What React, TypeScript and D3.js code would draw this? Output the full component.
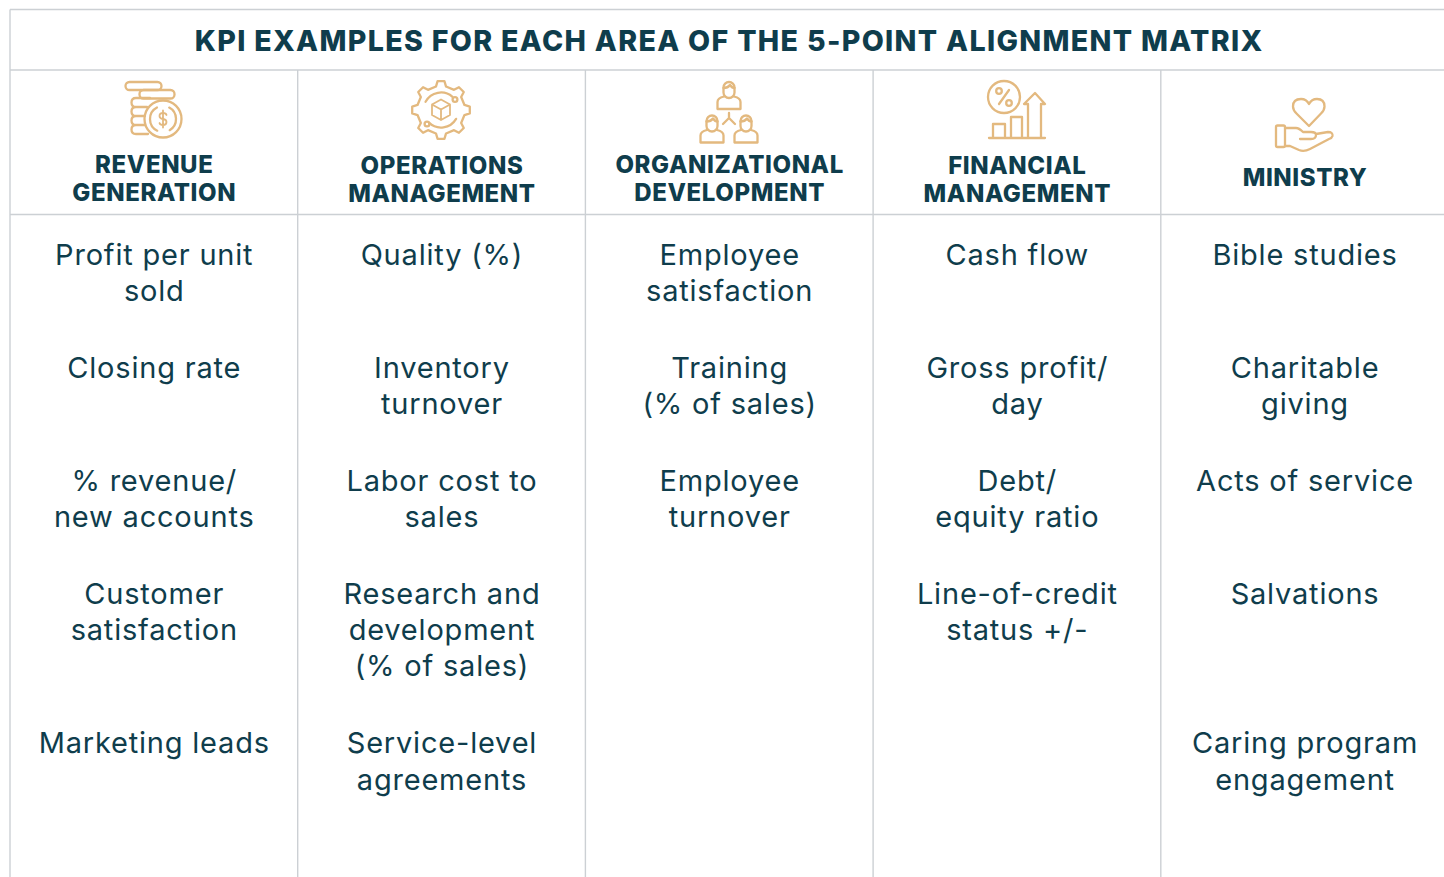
import React from "react";
import * as d3 from "d3";

const title = "KPI EXAMPLES FOR EACH AREA OF THE 5-POINT ALIGNMENT MATRIX";

const headings = [
  ["REVENUE", "GENERATION"],
  ["OPERATIONS", "MANAGEMENT"],
  ["ORGANIZATIONAL", "DEVELOPMENT"],
  ["FINANCIAL", "MANAGEMENT"],
  ["MINISTRY"],
];

// one entry per row, each cell split into its printed lines
const revenue = [["Profit per unit", "sold"], ["Closing rate"], ["% revenue/", "new accounts"], ["Customer", "satisfaction"], ["Marketing leads"]];
const operations = [["Quality (%)"], ["Inventory", "turnover"], ["Labor cost to", "sales"], ["Research and", "development", "(% of sales)"], ["Service-level", "agreements"]];
const organizational = [["Employee", "satisfaction"], ["Training", "(% of sales)"], ["Employee", "turnover"], [], []];
const financial = [["Cash flow"], ["Gross profit/", "day"], ["Debt/", "equity ratio"], ["Line-of-credit", "status +/-"], []];
const ministry = [["Bible studies"], ["Charitable", "giving"], ["Acts of service"], ["Salvations"], ["Caring program", "engagement"]];

const columns = [revenue, operations, organizational, financial, ministry];
const rowLines = [2, 2, 2, 3, 2];

const WIDTH = 1444;
const HEIGHT = 877;
const INK = "#0f3d4c";
const GOLD = "#e3b97f";
const RULE = "#ccd0d4";
const FONT = "Inter, sans-serif";

const LINE = 36.2;
const ROW_GAP = 40.5;

const x = d3.scaleLinear().domain([0, 5]).range([10, 1448.5]);
const center = (i: number) => (x(i) + x(i + 1)) / 2;

// first-line baseline of each row, from the running line count
const rowTop = [0, ...d3.cumsum(rowLines, (n) => n * LINE + ROW_GAP)].map((d) => 265 + d);

const gearPath = () => {
  const pts: [number, number][] = [];
  const teeth = 8;
  const step = (Math.PI * 2) / teeth;
  d3.range(teeth).forEach((t) => {
    const a = t * step;
    pts.push([a - step * 0.27, 24], [a - step * 0.15, 29], [a + step * 0.15, 29], [a + step * 0.27, 24]);
  });
  return d3.lineRadial().curve(d3.curveLinearClosed)(pts) as string;
};

function Person({ cx, top }: { cx: number; top: number }) {
  return (
    <g transform={`translate(${cx},${top})`}>
      <rect x={-5.5} y={0} width={11} height={16} rx={5.5} />
      <path d="M-5.5 6 Q-1 6 1 3 Q3 6 5.5 6" />
      <path d="M-11.500 27 V20 Q-11.500 16 -5 14.500 M5 14.500 Q11.500 16 11.500 20 V27 H-11.500" />
    </g>
  );
}

function Icons() {
  const arc = d3.arc();
  const ring = (r: number, a0: number, a1: number) =>
    arc({ innerRadius: r, outerRadius: r, startAngle: a0, endAngle: a1 }) as string;
  return (
    <g fill="none" stroke={GOLD} strokeWidth={2.3} strokeLinecap="round" strokeLinejoin="round">
      {/* coins */}
      <rect x={125.5} y={82} width={36} height={8} rx={4} />
      <rect x={139.5} y={90} width={35} height={8.5} rx={4} />
      <path d="M150 98 H136 Q131.500 98 131.500 102.500 Q131.500 107 136 107 H147 M136 107 Q131.500 107 131.500 111.500 Q131.500 116 136 116 H145 M136 116 Q131.500 116 131.500 120.500 Q131.500 125 136 125 H145 M136 125 Q131.500 125 131.500 129.500 Q131.500 134 136 134 H148" />
      <g transform="translate(163,119)">
        <circle r={18.5} />
        <path d={ring(13, 0.5, 2.6)} />
        <path d={ring(13, 3.6, 5.8)} />
        <path d="M3.500 -4 Q3 -6 0 -6 Q-3.500 -6 -3.500 -3 Q-3.500 -0.500 0 0 Q3.500 0.500 3.500 3 Q3.500 6 0 6 Q-3 6 -3.500 4 M0 -8.500 V8.500" strokeWidth={1.8} />
      </g>
      {/* gear */}
      <g transform="translate(441,110)">
        <path d={gearPath()} />
        <path d={ring(17.5, 5.2, 7.0)} />
        <path d={ring(17.5, 2.1, 3.9)} />
        <circle cx={14} cy={-10.5} r={2.4} />
        <circle cx={-14} cy={14} r={2.4} />
        <path d="M0 -10.500 L9 -5.500 V5 L0 10 L-9 5 V-5.500 Z M-9 -5.500 L0 -0.500 L9 -5.500 M0 -0.500 V10" strokeWidth={1.8} />
      </g>
      {/* people */}
      <Person cx={729} top={82} />
      <Person cx={712} top={115.5} />
      <Person cx={746} top={115.5} />
      <path d="M729 113 V118 L723 124 M729 118 L735 124" />
      {/* percent and bars */}
      <g transform="translate(1004,97)">
        <circle r={16} />
        <path d="M-5 7 L5 -7" />
        <circle cx={-5} cy={-6} r={2.8} />
        <circle cx={5} cy={6} r={2.8} />
      </g>
      <path d="M989 138 H1045 M993 138 V124 H1005 V138 M1011 138 V117 H1022 V138 M1028 138 V104 H1024 L1035 93 L1045 104 H1041 V138" />
      {/* hand and heart */}
      <path d="M1309 126 L1296.500 113.500 Q1293 110 1293 106.500 Q1293 99 1301 99 Q1306.500 99 1309 104 Q1311.500 99 1317 99 Q1324.500 99 1324.500 106.500 Q1324.500 110 1321 113.500 Z" />
      <rect x={1276} y={125.500} width={9} height={21.500} rx={1.500} />
      <path d="M1285 128 H1296 Q1299 128 1303 132 H1311 Q1316 132 1316 135 Q1316 139 1311 139 H1300 M1316 134 L1328 132 Q1333 132 1332.500 136 Q1332 138 1329 139 L1310 149 Q1304 152 1299 150 L1290 146 H1285" />
    </g>
  );
}

export default function App() {
  return (
    <svg
      width={WIDTH}
      height={HEIGHT}
      viewBox={`0 0 ${WIDTH} ${HEIGHT}`}
      style={{ position: "absolute", left: 0, top: 0, background: "#fff" }}
      fontFamily={FONT}
      textAnchor="middle"
    >
      <g stroke={RULE} strokeWidth={1.4}>
        <line x1={x(0)} x2={WIDTH} y1={9.5} y2={9.5} />
        <line x1={x(0)} x2={WIDTH} y1={70} y2={70} />
        <line x1={x(0)} x2={WIDTH} y1={214.5} y2={214.5} />
        <line x1={x(0)} x2={x(0)} y1={9.5} y2={HEIGHT} />
        {d3.range(1, 5).map((i) => (
          <line key={i} x1={x(i)} x2={x(i)} y1={70} y2={HEIGHT} />
        ))}
      </g>

      <text x={729.2} y={51} fontSize={28.6} fontWeight={800} letterSpacing={1.33} fill={INK}>
        {title}
      </text>

      <Icons />

      {headings.map((lines, i) => {
        const base = lines.length === 1 ? 186 : i % 2 === 1 ? 174 : 173;
        return lines.map((line, j) => (
          <text key={line} x={center(i) + 0.4} y={base + j * 28} fontSize={24} fontWeight={800} letterSpacing={0.6} fill={INK}>
            {line}
          </text>
        ));
      })}

      {columns.map((col, i) =>
        col.map((cell, r) =>
          cell.map((line, j) => (
            <text
              key={`${i}-${r}-${j}`}
              x={center(i) + 0.4}
              y={rowTop[r] + j * (r === 4 ? LINE + 1 : LINE)}
              fontSize={29}
              fontWeight={400}
              letterSpacing={0.8}
              fill={INK}
            >
              {line}
            </text>
          ))
        )
      )}
    </svg>
  );
}
